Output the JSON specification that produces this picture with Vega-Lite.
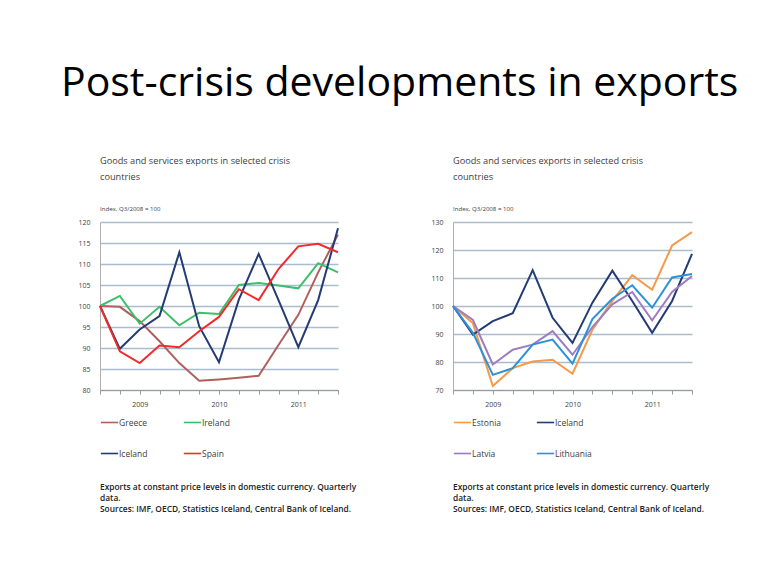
{
  "$schema": "https://vega.github.io/schema/vega-lite/v6.json",
  "background": "white",
  "padding": {"left": 60, "top": 62, "right": 10, "bottom": 5},
  "title": {"text": "Post-crisis developments in exports", "fontSize": 41, "font": "Open Sans", "fontWeight": "normal", "color": "#000000", "anchor": "start", "frame": "bounds", "dx": -17, "offset": 52},
  "datasets": {
    "left": [
      {"q": "2008Q3", "country": "Greece", "v": 100}, {"q": "2008Q4", "country": "Greece", "v": 99.8}, {"q": "2009Q1", "country": "Greece", "v": 96.4}, {"q": "2009Q2", "country": "Greece", "v": 91.6}, {"q": "2009Q3", "country": "Greece", "v": 86.4}, {"q": "2009Q4", "country": "Greece", "v": 82.2}, {"q": "2010Q1", "country": "Greece", "v": 82.5}, {"q": "2010Q2", "country": "Greece", "v": 82.9}, {"q": "2010Q3", "country": "Greece", "v": 83.4}, {"q": "2010Q4", "country": "Greece", "v": 90.7}, {"q": "2011Q1", "country": "Greece", "v": 97.9}, {"q": "2011Q2", "country": "Greece", "v": 108}, {"q": "2011Q3", "country": "Greece", "v": 117},
      {"q": "2008Q3", "country": "Ireland", "v": 100}, {"q": "2008Q4", "country": "Ireland", "v": 102.4}, {"q": "2009Q1", "country": "Ireland", "v": 95.8}, {"q": "2009Q2", "country": "Ireland", "v": 99.8}, {"q": "2009Q3", "country": "Ireland", "v": 95.4}, {"q": "2009Q4", "country": "Ireland", "v": 98.4}, {"q": "2010Q1", "country": "Ireland", "v": 98.1}, {"q": "2010Q2", "country": "Ireland", "v": 105.0}, {"q": "2010Q3", "country": "Ireland", "v": 105.5}, {"q": "2010Q4", "country": "Ireland", "v": 104.9}, {"q": "2011Q1", "country": "Ireland", "v": 104.2}, {"q": "2011Q2", "country": "Ireland", "v": 110.2}, {"q": "2011Q3", "country": "Ireland", "v": 108.0},
      {"q": "2008Q3", "country": "Iceland", "v": 100}, {"q": "2008Q4", "country": "Iceland", "v": 89.8}, {"q": "2009Q1", "country": "Iceland", "v": 94.4}, {"q": "2009Q2", "country": "Iceland", "v": 97.6}, {"q": "2009Q3", "country": "Iceland", "v": 112.8}, {"q": "2009Q4", "country": "Iceland", "v": 95.2}, {"q": "2010Q1", "country": "Iceland", "v": 86.6}, {"q": "2010Q2", "country": "Iceland", "v": 101.5}, {"q": "2010Q3", "country": "Iceland", "v": 112.4}, {"q": "2010Q4", "country": "Iceland", "v": 101.4}, {"q": "2011Q1", "country": "Iceland", "v": 90.2}, {"q": "2011Q2", "country": "Iceland", "v": 101.4}, {"q": "2011Q3", "country": "Iceland", "v": 118.5},
      {"q": "2008Q3", "country": "Spain", "v": 100}, {"q": "2008Q4", "country": "Spain", "v": 89.2}, {"q": "2009Q1", "country": "Spain", "v": 86.4}, {"q": "2009Q2", "country": "Spain", "v": 90.6}, {"q": "2009Q3", "country": "Spain", "v": 90.2}, {"q": "2009Q4", "country": "Spain", "v": 94.0}, {"q": "2010Q1", "country": "Spain", "v": 97.4}, {"q": "2010Q2", "country": "Spain", "v": 104.0}, {"q": "2010Q3", "country": "Spain", "v": 101.4}, {"q": "2010Q4", "country": "Spain", "v": 108.8}, {"q": "2011Q1", "country": "Spain", "v": 114.2}, {"q": "2011Q2", "country": "Spain", "v": 114.8}, {"q": "2011Q3", "country": "Spain", "v": 112.8}
    ],
    "right": [
      {"q": "2008Q3", "country": "Estonia", "v": 100}, {"q": "2008Q4", "country": "Estonia", "v": 93.8}, {"q": "2009Q1", "country": "Estonia", "v": 71.4}, {"q": "2009Q2", "country": "Estonia", "v": 77.8}, {"q": "2009Q3", "country": "Estonia", "v": 80.2}, {"q": "2009Q4", "country": "Estonia", "v": 80.8}, {"q": "2010Q1", "country": "Estonia", "v": 75.8}, {"q": "2010Q2", "country": "Estonia", "v": 91.5}, {"q": "2010Q3", "country": "Estonia", "v": 101.8}, {"q": "2010Q4", "country": "Estonia", "v": 111.0}, {"q": "2011Q1", "country": "Estonia", "v": 105.8}, {"q": "2011Q2", "country": "Estonia", "v": 121.6}, {"q": "2011Q3", "country": "Estonia", "v": 126.4},
      {"q": "2008Q3", "country": "Iceland", "v": 100}, {"q": "2008Q4", "country": "Iceland", "v": 89.8}, {"q": "2009Q1", "country": "Iceland", "v": 94.6}, {"q": "2009Q2", "country": "Iceland", "v": 97.4}, {"q": "2009Q3", "country": "Iceland", "v": 112.8}, {"q": "2009Q4", "country": "Iceland", "v": 95.8}, {"q": "2010Q1", "country": "Iceland", "v": 86.8}, {"q": "2010Q2", "country": "Iceland", "v": 101.2}, {"q": "2010Q3", "country": "Iceland", "v": 112.6}, {"q": "2010Q4", "country": "Iceland", "v": 101.8}, {"q": "2011Q1", "country": "Iceland", "v": 90.4}, {"q": "2011Q2", "country": "Iceland", "v": 101.8}, {"q": "2011Q3", "country": "Iceland", "v": 118.6},
      {"q": "2008Q3", "country": "Latvia", "v": 100}, {"q": "2008Q4", "country": "Latvia", "v": 95.0}, {"q": "2009Q1", "country": "Latvia", "v": 79.1}, {"q": "2009Q2", "country": "Latvia", "v": 84.4}, {"q": "2009Q3", "country": "Latvia", "v": 86.2}, {"q": "2009Q4", "country": "Latvia", "v": 91.0}, {"q": "2010Q1", "country": "Latvia", "v": 82.6}, {"q": "2010Q2", "country": "Latvia", "v": 92.5}, {"q": "2010Q3", "country": "Latvia", "v": 100.6}, {"q": "2010Q4", "country": "Latvia", "v": 105.0}, {"q": "2011Q1", "country": "Latvia", "v": 94.9}, {"q": "2011Q2", "country": "Latvia", "v": 105.0}, {"q": "2011Q3", "country": "Latvia", "v": 110.7},
      {"q": "2008Q3", "country": "Lithuania", "v": 100}, {"q": "2008Q4", "country": "Lithuania", "v": 90.4}, {"q": "2009Q1", "country": "Lithuania", "v": 75.4}, {"q": "2009Q2", "country": "Lithuania", "v": 77.8}, {"q": "2009Q3", "country": "Lithuania", "v": 86.2}, {"q": "2009Q4", "country": "Lithuania", "v": 88.0}, {"q": "2010Q1", "country": "Lithuania", "v": 79.4}, {"q": "2010Q2", "country": "Lithuania", "v": 95.3}, {"q": "2010Q3", "country": "Lithuania", "v": 102.6}, {"q": "2010Q4", "country": "Lithuania", "v": 107.4}, {"q": "2011Q1", "country": "Lithuania", "v": 99.4}, {"q": "2011Q2", "country": "Lithuania", "v": 110.2}, {"q": "2011Q3", "country": "Lithuania", "v": 111.4}
    ]
  },
  "spacing": 73,
  "resolve": {"scale": {"color": "independent", "y": "independent"}, "legend": {"color": "independent"}},
  "hconcat": [
    {
      "width": 238,
      "height": 168,
      "title": {"text": ["Goods and services exports in selected crisis", "countries"], "subtitle": "Index, Q3/2008 = 100"},
      "data": {"name": "left"},
      "mark": {"type": "line", "strokeWidth": 2},
      "encoding": {
        "x": {"field": "q", "type": "ordinal", "scale": {"type": "point", "padding": 0}},
        "y": {"field": "v", "type": "quantitative", "scale": {"domain": [80, 120], "nice": false, "zero": false}, "axis": {"values": [80, 85, 90, 95, 100, 105, 110, 115, 120]}},
        "color": {
          "field": "country", "type": "nominal",
          "scale": {"domain": ["Greece", "Ireland", "Iceland", "Spain"], "range": ["#B0605C", "#3DBE6A", "#233C73", "#F22A2A"]},
          "legend": {"title": ["Exports at constant price levels in domestic currency. Quarterly", "data.", "Sources: IMF, OECD,  Statistics Iceland, Central Bank of Iceland."], "columnPadding": 32}
        }
      }
    },
    {
      "width": 239,
      "height": 168,
      "title": {"text": ["Goods and services exports in selected crisis", "countries"], "subtitle": "Index, Q3/2008 = 100"},
      "data": {"name": "right"},
      "mark": {"type": "line", "strokeWidth": 2},
      "encoding": {
        "x": {"field": "q", "type": "ordinal", "scale": {"type": "point", "padding": 0}},
        "y": {"field": "v", "type": "quantitative", "scale": {"domain": [70, 130], "nice": false, "zero": false}, "axis": {"values": [70, 80, 90, 100, 110, 120, 130]}},
        "color": {
          "field": "country", "type": "nominal",
          "scale": {"domain": ["Estonia", "Iceland", "Latvia", "Lithuania"], "range": ["#F59A4A", "#233C73", "#9C7DC2", "#2B92D9"]},
          "legend": {"title": ["Exports at constant price levels in domestic currency. Quarterly", "data.", "Sources: IMF, OECD,  Statistics Iceland, Central Bank of Iceland."], "columnPadding": 32}
        }
      }
    }
  ],
  "config": {
    "font": "Open Sans",
    "view": {"stroke": null},
    "title": {"anchor": "start", "fontSize": 9.2, "fontWeight": "normal", "color": "#404040", "lineHeight": 16, "subtitleFontSize": 6.1, "subtitleColor": "#404040", "subtitlePadding": 24, "offset": 6, "frame": "group"},
    "axisX": {"title": null, "labelExpr": "indexof(datum.value, 'Q1') > 0 ? slice(datum.value, 0, 4) : ''", "labelAngle": 0, "labelFontSize": 7, "labelColor": "#404040", "labelPadding": 6, "tickSize": 4, "tickColor": "#9A9A9A", "domainColor": "#9A9A9A", "grid": false},
    "axisY": {"title": null, "labelFontSize": 7, "labelColor": "#404040", "labelPadding": 10, "ticks": false, "domainColor": "#B0B0B0", "grid": true, "gridColor": "#A9BCD0", "gridWidth": 1.5},
    "legend": {"orient": "bottom", "direction": "horizontal", "columns": 2, "titleOrient": "bottom", "titleAnchor": "start", "titleFontSize": 8.4, "titleFontWeight": 600, "titleColor": "#222222", "titlePadding": 25, "titleLimit": 400, "titleLineHeight": 11, "symbolType": "stroke", "symbolSize": 300, "symbolStrokeWidth": 1.6, "labelFontSize": 8.5, "labelColor": "#404040", "rowPadding": 17, "offset": 6, "labelOffset": 0, "padding": 0}
  }
}
